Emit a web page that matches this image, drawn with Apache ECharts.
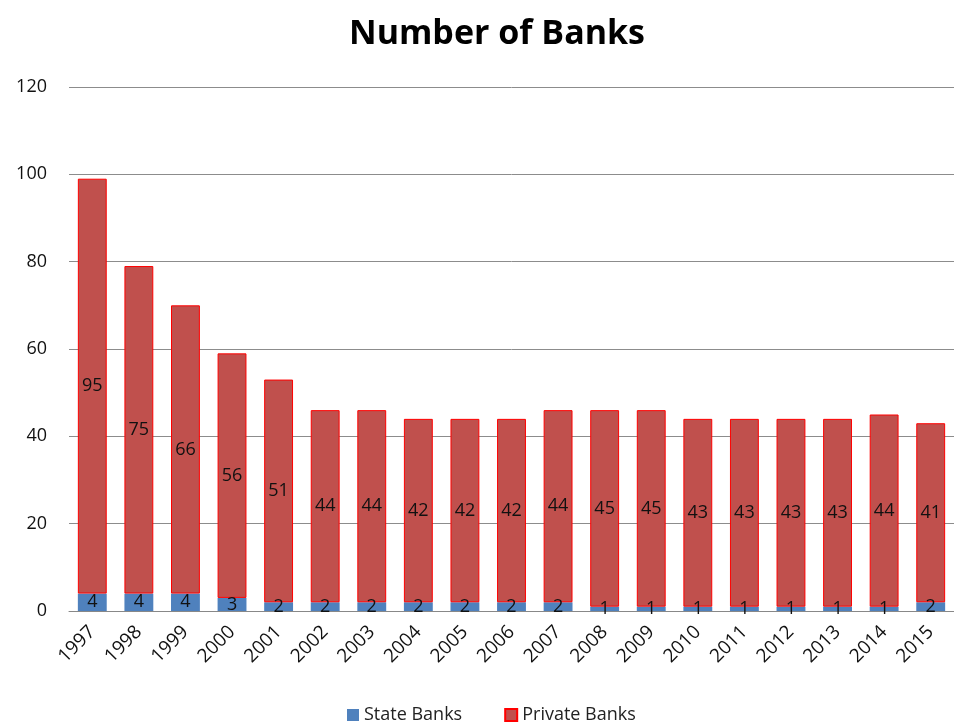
<!DOCTYPE html>
<html>
<head>
<meta charset="utf-8">
<script src="https://cdn.jsdelivr.net/npm/echarts@6/dist/echarts.min.js"></script>
<style>
  html, body { margin: 0; padding: 0; background: #fff; }
  #chart { width: 954px; height: 722px; }
</style>
</head>
<body>
<div id="chart"></div>
<script>
var years = ['1997', '1998', '1999', '2000', '2001', '2002', '2003', '2004', '2005', '2006',
    '2007', '2008', '2009', '2010', '2011', '2012', '2013', '2014', '2015'];
var stateBanks = [4, 4, 4, 3, 2, 2, 2, 2, 2, 2, 2, 1, 1, 1, 1, 1, 1, 1, 2];
var privateBanks = [95, 75, 66, 56, 51, 44, 44, 42, 42, 42, 44, 45, 45, 43, 43, 43, 43, 44, 41];
var yTicks = [0, 20, 40, 60, 80, 100, 120];

var font = '"Open Sans", sans-serif';
var chart = echarts.init(document.getElementById('chart'));
var option = {
    animation: false,
    title: {
        text: 'Number of Banks',
        left: 492,
        top: 12,
        textAlign: 'center',
        textStyle: { fontFamily: font, fontSize: 34, fontWeight: 'bold', color: '#000' }
    },
    legend: {
        bottom: -7,
        left: 342,
        icon: 'rect',
        itemWidth: 12,
        itemHeight: 12,
        itemGap: 42,
        textStyle: { fontFamily: font, fontSize: 18, color: '#222' },
        data: ['State Banks', 'Private Banks']
    },
    grid: { left: 69, right: -8, top: 87, bottom: 111 },
    xAxis: {
        type: 'category',
        data: years,
        axisTick: { show: false },
        axisLine: { lineStyle: { color: '#888' } },
        axisLabel: {
            rotate: 45,
            margin: 18,
            interval: 0,
            fontFamily: font,
            fontSize: 19,
            color: '#111'
        }
    },
    yAxis: {
        type: 'value',
        min: yTicks[0],
        max: yTicks[yTicks.length - 1],
        interval: 20,
        axisLine: { show: false },
        axisTick: { show: false },
        splitLine: { lineStyle: { color: '#8c8c8c' } },
        axisLabel: { margin: 22, fontFamily: font, fontSize: 18, color: '#111' }
    },
    series: [
        {
            name: 'State Banks',
            type: 'bar',
            stack: 'banks',
            barWidth: '62%',
            data: stateBanks,
            itemStyle: { color: '#4F81BD' },
            label: { show: true, position: 'inside', fontFamily: font, fontSize: 18, color: '#111' }
        },
        {
            name: 'Private Banks',
            type: 'bar',
            stack: 'banks',
            barWidth: '62%',
            data: privateBanks,
            itemStyle: { color: '#C0504D', borderColor: '#FF0000', borderWidth: 1 },
            label: { show: true, position: 'inside', fontFamily: font, fontSize: 18, color: '#111' }
        }
    ]
};
chart.setOption(option);
</script>
</body>
</html>
